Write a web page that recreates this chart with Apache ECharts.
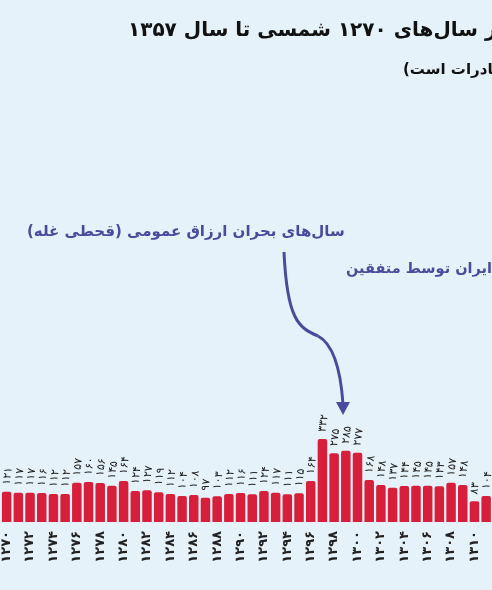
<!DOCTYPE html>
<html dir="rtl"><head><meta charset="utf-8">
<script src="https://cdn.jsdelivr.net/npm/echarts@6/dist/echarts.min.js"></script>
<style>html,body{margin:0;padding:0;background:#e6f2f9;overflow:hidden}#c{width:492px;height:590px}</style>
</head><body><div id="c"></div><script>
const years = ['1270','1271','1272','1273','1274','1275','1276','1277','1278','1279','1280','1281','1282','1283','1284','1285','1286','1287','1288','1289','1290','1291','1292','1293','1294','1295','1296','1297','1298','1299','1300','1301','1302','1303','1304','1305','1306','1307','1308','1309','1310','1311'];
const values = [121,117,117,116,112,112,157,160,156,145,164,124,127,119,112,104,108,97,103,112,116,111,124,117,111,115,164,332,275,285,277,168,148,137,144,145,145,143,157,148,83,104];
const titleText = 'در سال\u200cهای ۱۲۷۰ شمسی تا سال ۱۳۵۷';
const subtitleText = 'صادرات است)';
const note1 = 'سال\u200cهای بحران ارزاق عمومی (قحطی غله)';
const note2 = 'ایران توسط متفقین';

const fa = s => String(s).replace(/\d/g, d => '۰۱۲۳۴۵۶۷۸۹'[d]);
const FONT = '"DejaVu Sans", "Noto Sans", sans-serif';
const chart = echarts.init(document.getElementById('c'));
chart.setOption({
  backgroundColor: '#e5f2f9',
  animation: false,
  grid: { left: 0.8, width: 42 * 11.73, bottom: 68, top: 422 },
  xAxis: {
    type: 'category', data: years,
    axisLine: { show: false }, axisTick: { show: false },
    axisLabel: { interval: 1, rotate: 90, margin: 9, fontSize: 13, fontWeight: 'bold', color: '#222', fontFamily: FONT, formatter: v => fa(v) }
  },
  yAxis: { type: 'value', min: 0, max: 400, show: false, splitLine: { show: false } },
  series: [{
    type: 'bar', data: values, barWidth: 9.5,
    itemStyle: { color: '#d71e3a', borderRadius: [2, 2, 0, 0] },
    label: { show: true, position: 'top', rotate: 82, align: 'left', verticalAlign: 'middle', distance: 7,
      fontSize: 11, color: '#222', fontFamily: FONT, formatter: p => fa(p.value) }
  }],
  graphic: [
    { type: 'text', left: 128, top: 21, style: { text: titleText, font: 'bold 20px ' + FONT, fill: '#111' } },
    { type: 'text', left: 403, top: 63, style: { text: subtitleText, font: 'bold 15px ' + FONT, fill: '#111' } },
    { type: 'text', left: 27, top: 225, style: { text: note1, font: 'bold 15px ' + FONT, fill: '#4a4b9c' } },
    { type: 'text', left: 346, top: 262, style: { text: note2, font: 'bold 14.5px ' + FONT, fill: '#4a4b9c' } },
    { type: 'bezierCurve', shape: { x1: 284, y1: 252, cpx1: 287, cpy1: 318, cpx2: 298, cpy2: 328, x2: 318, y2: 336 }, style: { stroke: '#4a4b9c', lineWidth: 3, fill: null } },
    { type: 'bezierCurve', shape: { x1: 318, y1: 336, cpx1: 335, cpy1: 345, cpx2: 341, cpy2: 375, x2: 343, y2: 404 }, style: { stroke: '#4a4b9c', lineWidth: 3, fill: null } },
    { type: 'polygon', shape: { points: [[336, 402], [350, 402], [343, 415]] }, style: { fill: '#4a4b9c' } }
  ]
});
</script></body></html>
